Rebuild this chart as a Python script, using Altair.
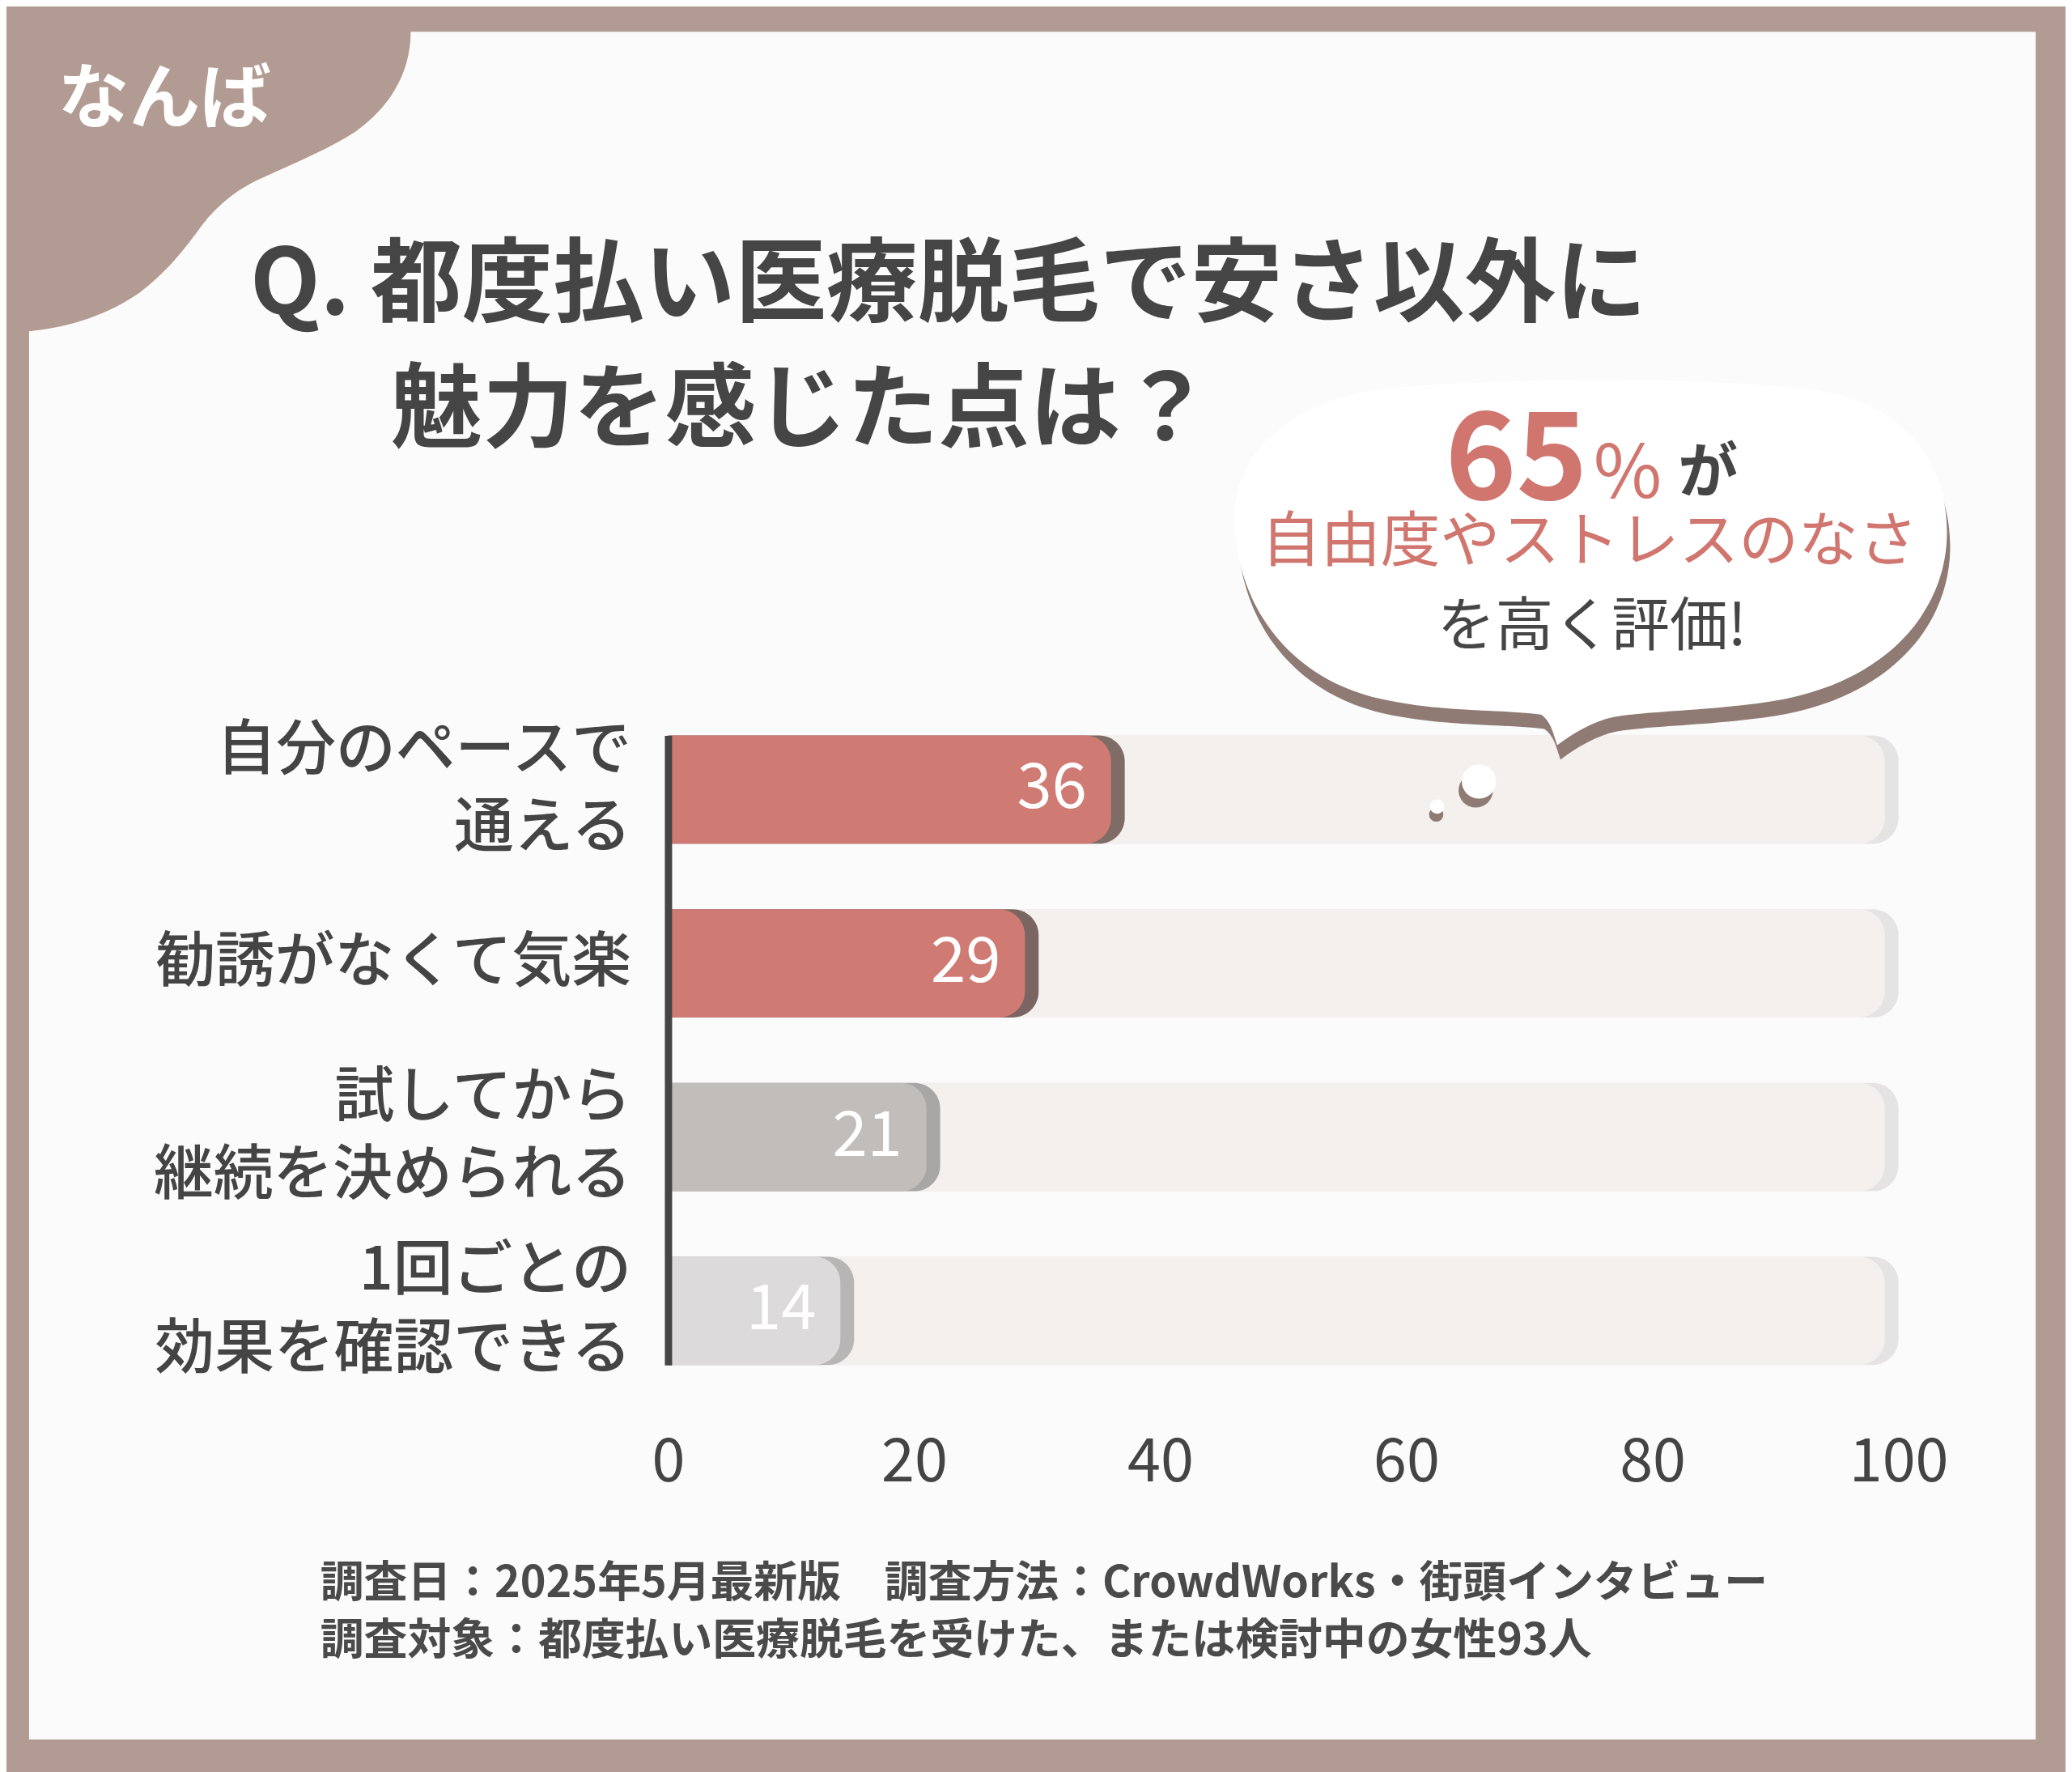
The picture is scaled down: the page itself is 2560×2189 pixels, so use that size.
import altair as alt
import pandas as pd

FONT = "Noto Sans CJK JP"

# ---- data ----
categories = ["自分のペースで\n通える", "勧誘がなくて気楽", "試してから\n継続を決められる", "1回ごとの\n効果を確認できる"]
values = [36, 29, 21, 14]
full_scale = [100, 100, 100, 100]
x_ticks = [0, 20, 40, 60, 80, 100]

title_line1 = "Q. 都度払い医療脱毛で安さ以外に"
title_line2 = "魅力を感じた点は？"
corner_tag = "なんば"
bubble_pct = "65"
bubble_pct_sign = "%"
bubble_ga = "が"
bubble_line2 = "自由度やストレスのなさ"
bubble_line3 = "を高く評価!"
footer_line1 = "調査日：2025年5月最新版　調査方法：CrowdWorks・街頭インタビュー"
footer_line2 = "調査対象：都度払い医療脱毛を受けた、または検討中の女性93人"

# ---- styles ----
bar_colors = ["#d07a74", "#d07a74", "#c1bdbb", "#dcdadb"]
shadow_colors = ["#7f6c66", "#7b6562", "#a9a7a6", "#b8b5b5"]
PINK = "#d0766f"
DARK = "#454545"
FRAME = "#b29b92"
SHADOW = "#8f7b74"

df = pd.DataFrame({"category": categories, "value": values, "full": full_scale})

y_enc = alt.Y(
    "category:N",
    sort=categories,
    scale=alt.Scale(paddingInner=0.377, paddingOuter=0),
    axis=alt.Axis(
        title=None, domain=True, domainColor=DARK, domainWidth=9, ticks=False, grid=False,
        labelFont=FONT, labelFontSize=74, labelFontWeight=500, labelColor="#444444", labelPadding=46,
        labelLineHeight=97, labelLimit=1000, labelBaseline="middle",
        labelExpr="split(datum.label, '\\n')",
        labelOffset={"condition": {"test": "indexof(datum.label, '\\n') >= 0", "value": -48}, "value": 0},
        zindex=1,
    ),
)
x_scale = alt.Scale(domain=[0, 100], nice=False, zero=True)
x_axis = alt.Axis(
    title=None, values=x_ticks, domain=False, ticks=False, grid=False,
    labelFont=FONT, labelFontSize=74, labelColor="#444444", labelPadding=86,
    labelFlush=False, format="d", zindex=1,
)

R = 32
base = alt.Chart(df)

bg_shadow = base.mark_bar(color="#e5e3e3", cornerRadiusTopRight=R, cornerRadiusBottomRight=R).encode(
    x=alt.X("full:Q", scale=x_scale, axis=x_axis), x2=alt.X2(datum=0), y=y_enc)
bg_main = base.mark_bar(color="#f3f0ee", cornerRadiusTopRight=R, cornerRadiusBottomRight=R, xOffset=-17).encode(
    x=alt.X("full:Q", scale=x_scale, axis=x_axis), x2=alt.X2(datum=0), y=y_enc)
val_shadow = base.mark_bar(cornerRadiusTopRight=R, cornerRadiusBottomRight=R, xOffset=17).encode(
    x=alt.X("value:Q", scale=x_scale, axis=x_axis), x2=alt.X2(datum=0), y=y_enc,
    color=alt.Color("category:N", scale=alt.Scale(domain=categories, range=shadow_colors), legend=None))
val_main = base.mark_bar(cornerRadiusTopRight=R, cornerRadiusBottomRight=R).encode(
    x=alt.X("value:Q", scale=x_scale, axis=x_axis), x2=alt.X2(datum=0), y=y_enc,
    fill=alt.Fill("category:N", scale=alt.Scale(domain=categories, range=bar_colors), legend=None))
val_text = base.mark_text(align="right", baseline="middle", dx=-30, color="white",
                          font=FONT, fontSize=78).encode(
    x=alt.X("value:Q", scale=x_scale, axis=x_axis), y=y_enc, text="value:Q")

# origin of the picture in plot coordinates
OX, OY = -828, -908


def shape_layer(path, dx, dy, color):
    return alt.Chart(pd.DataFrame({"k": [0]})).mark_point(
        shape=path, size=4, filled=True, fill=color, opacity=1, strokeWidth=0
    ).encode(x=alt.value(OX + dx), y=alt.value(OY + dy))


def dot_layer(x, y, r, color):
    return alt.Chart(pd.DataFrame({"k": [0]})).mark_point(
        shape="circle", size=3.14159 * r * r, filled=True, fill=color, opacity=1, strokeWidth=0
    ).encode(x=alt.value(OX + x), y=alt.value(OY + y))


def text_layer(txt, x, y, size, color, weight="bold", align="left", baseline="middle"):
    return alt.Chart(pd.DataFrame({"t": [txt]})).mark_text(
        align=align, baseline=baseline, font=FONT, fontSize=size, fontWeight=weight, color=color
    ).encode(text="t:N", x=alt.value(OX + x), y=alt.value(OY + y))


panel_path = ("M509,36 L2523,36 L2523,2152 L36,2152 L36,407 C90,402 135,385 172,360 "
              "C205,335 225,310 245,283 C262,258 290,232 325,217 C370,196 410,180 440,160 "
              "C480,132 509,90 509,36 Z")
bubble_path = ("M1530,640 C1528,560 1600,490 1720,478 C1820,466 2120,462 2250,480 "
               "C2360,495 2415,570 2413,660 C2411,760 2330,850 2180,868 "
               "C2100,878 2040,878 2000,885 C1975,890 1950,905 1930,920 "
               "C1925,905 1922,890 1910,882 C1860,875 1780,880 1700,860 "
               "C1590,830 1532,740 1530,640 Z")

layers = [
    shape_layer(panel_path, 0, 0, "#fbfbfb"),
    bg_shadow, bg_main, val_shadow, val_main, val_text,
    shape_layer(bubble_path, 4, 18, SHADOW),
    shape_layer(bubble_path, 0, 0, "#ffffff"),
    dot_layer(1829, 976, 24, SHADOW),
    dot_layer(1833, 965, 24, "#ffffff"),
    dot_layer(1780, 1006, 10, SHADOW),
    dot_layer(1781, 996, 10, "#ffffff"),
    text_layer(corner_tag, 72, 122, 88, "#ffffff"),
    text_layer(title_line1, 310, 352, 113, DARK),
    text_layer(title_line2, 485, 507, 113, DARK),
    text_layer(bubble_pct, 1791, 615, 150, PINK, baseline="alphabetic"),
    text_layer(bubble_pct_sign, 1975, 613, 92, PINK, weight="normal", baseline="alphabetic"),
    text_layer(bubble_ga, 2080, 606, 74, DARK, baseline="alphabetic"),
    text_layer(bubble_line2, 1970, 670, 74, PINK, weight="normal", align="center"),
    text_layer(bubble_line3, 1973, 774, 72, DARK, weight="normal", align="center"),
    text_layer(footer_line1, 397, 1960, 54, "#4a4a4a"),
    text_layer(footer_line2, 397, 2031, 54, "#4a4a4a"),
]

chart = alt.layer(*layers).properties(
    width=1525,
    height=780,
    autosize=alt.AutoSizeParams(type="none"),
    padding={"left": 820, "top": 900, "right": 207, "bottom": 501},
    background=FRAME,
).configure_view(stroke=None)

chart.save("out.html", embed_options={"renderer": "svg", "actions": False})
